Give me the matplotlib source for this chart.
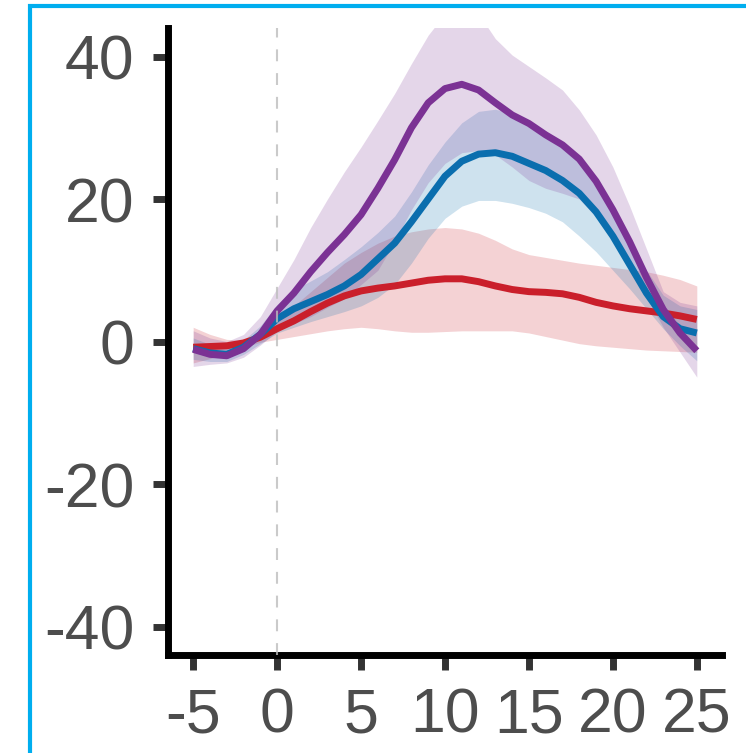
import matplotlib.pyplot as plt
from matplotlib.patches import Rectangle

DAYS = list(range(-5, 26))

RED_MEAN = [-0.8, -0.7, -0.6, -0.2, 0.6, 1.8, 2.9, 4.2, 5.4, 6.4, 7.1, 7.5, 7.8, 8.2, 8.6, 8.8,
            8.8, 8.4, 7.8, 7.3, 7.0, 6.9, 6.7, 6.2, 5.5, 5.0, 4.6, 4.3, 4.0, 3.6, 3.1]
RED_LOW = [-3.0, -2.4, -1.6, -0.8, -0.1, 0.3, 0.7, 1.1, 1.5, 1.8, 2.0, 1.8, 1.5, 1.3, 1.3, 1.4,
           1.5, 1.5, 1.5, 1.5, 1.2, 0.7, 0.2, -0.3, -0.6, -0.8, -1.0, -1.2, -1.3, -1.4, -1.5]
RED_HIGH = [2.0, 1.0, 0.3, 0.2, 1.0, 3.0, 5.0, 7.0, 9.0, 11.0, 12.5, 13.8, 14.8, 15.4, 15.8, 16.0,
            15.8, 15.2, 14.2, 13.0, 12.2, 11.8, 11.4, 11.0, 10.7, 10.4, 10.1, 9.8, 9.3, 8.7, 7.8]

BLUE_MEAN = [-1.0, -1.6, -1.8, -0.8, 1.0, 3.2, 4.6, 5.6, 6.6, 7.8, 9.4, 11.6, 13.8, 16.8, 20.0, 23.2,
             25.3, 26.3, 26.5, 26.0, 25.0, 24.0, 22.6, 20.8, 18.2, 14.8, 10.8, 6.8, 3.5, 1.8, 1.2]
BLUE_LOW = [-2.5, -2.8, -2.8, -1.8, -0.3, 1.2, 2.0, 2.8, 3.5, 4.2, 5.0, 6.2, 8.0, 11.0, 14.5, 17.3,
            19.0, 19.8, 19.8, 19.4, 18.8, 18.0, 16.8, 14.8, 12.6, 10.0, 7.4, 4.6, 1.8, -0.6, -2.7]
BLUE_HIGH = [0.5, -0.4, -0.8, 0.2, 2.2, 5.2, 7.3, 8.5, 9.8, 11.5, 13.3, 15.3, 17.6, 21.0, 24.8, 28.0,
             30.7, 32.3, 32.6, 32.0, 30.8, 29.2, 27.3, 25.2, 22.0, 18.5, 14.3, 10.0, 6.5, 5.0, 4.5]

PURPLE_MEAN = [-1.1, -1.8, -2.0, -1.0, 1.0, 4.3, 6.8, 9.8, 12.5, 15.0, 17.8, 21.5, 25.5, 30.0, 33.5, 35.5,
               36.1, 35.3, 33.5, 31.8, 30.6, 29.0, 27.6, 25.6, 22.5, 18.5, 14.0, 9.0, 4.5, 1.2, -1.3]
PURPLE_LOW = [-3.5, -3.2, -3.0, -2.2, -0.5, 1.5, 2.5, 3.5, 4.8, 6.0, 8.0, 10.0, 14.0, 18.5, 22.3, 25.0,
              26.5, 26.8, 26.2, 24.5, 22.6, 21.5, 20.8, 20.0, 17.5, 14.0, 10.0, 6.2, 2.0, -1.5, -5.0]
PURPLE_HIGH = [1.5, 0.5, 0.0, 1.0, 3.5, 7.5, 11.5, 16.0, 20.0, 23.8, 27.3, 31.0, 34.8, 39.0, 43.0, 46.0,
               47.0, 46.0, 42.5, 40.2, 38.6, 37.0, 35.3, 32.5, 29.0, 24.5, 19.0, 13.0, 7.0, 5.5, 5.0]

X_TICKS = [-5, 0, 5, 10, 15, 20, 25]
Y_TICKS = [-40, -20, 0, 20, 40]

RED = '#CA1F2B'
BLUE = '#0A6EAE'
PURPLE = '#7B3294'

plt.rcParams['font.family'] = ['Liberation Sans', 'DejaVu Sans']

fig = plt.figure(figsize=(7.46, 7.53), dpi=100)
ax = fig.add_axes([0.2252, 0.1301, 0.7426, 0.8327])

series = [
    (RED_MEAN, RED_LOW, RED_HIGH, RED),
    (BLUE_MEAN, BLUE_LOW, BLUE_HIGH, BLUE),
    (PURPLE_MEAN, PURPLE_LOW, PURPLE_HIGH, PURPLE),
]

# confidence bands first, then the mean curves on top
for mean, low, high, color in series:
    ax.fill_between(DAYS, low, high, color=color, alpha=0.2, lw=0)
for mean, low, high, color in series:
    ax.plot(DAYS, mean, color=color, lw=5, solid_capstyle='butt', solid_joinstyle='round')

ax.axvline(0, color='#BDBDBD', lw=1.5, ls=(0, (5.7, 5.7)), zorder=5, alpha=0.8)

ax.set_xlim(-6.5, 26.5)
ax.set_ylim(-44, 44)
ax.set_xticks(X_TICKS)
ax.set_yticks(Y_TICKS)
ax.set_xticklabels([str(t) for t in X_TICKS])
ax.set_yticklabels([str(t) for t in Y_TICKS])

for side in ['top', 'right']:
    ax.spines[side].set_visible(False)
for side in ['left', 'bottom']:
    ax.spines[side].set_linewidth(5)
    ax.spines[side].set_color('black')
    ax.spines[side].set_capstyle('projecting')

ax.tick_params(axis='both', length=11, width=5, color='#333333',
               labelsize=45, labelcolor='#4D4D4D', pad=12)
ax.tick_params(axis='y', pad=13)

# light blue frame around the panel
fig.patches.append(Rectangle((30 / 746, -0.2), 1.2, 1.2 - 6 / 753, transform=fig.transFigure,
                             fill=False, edgecolor='#00AEEF', lw=3))

fig.savefig('out.png', dpi=100)
